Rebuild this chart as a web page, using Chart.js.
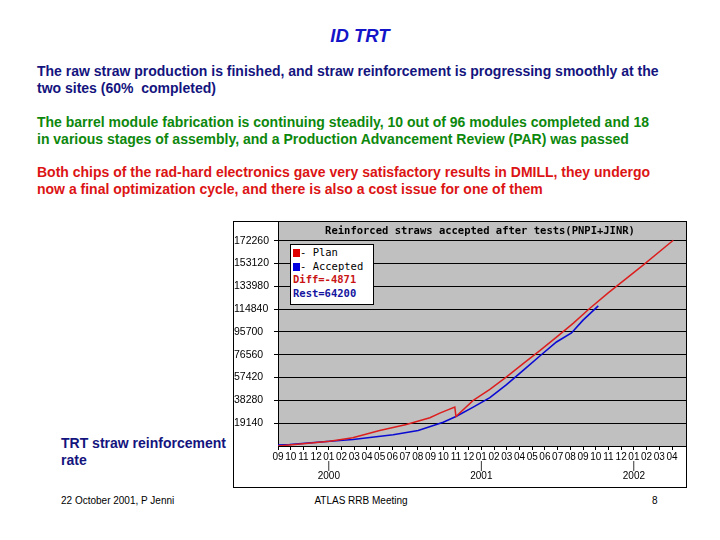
<!DOCTYPE html>
<html>
<head>
<meta charset="utf-8">
<script src="https://cdn.jsdelivr.net/npm/chart.js@4.4.1/dist/chart.umd.min.js"></script>
<style>
  body { margin: 0; width: 720px; height: 540px; background: #fff; position: relative; overflow: hidden;
         font-family: "Liberation Sans", Arial, sans-serif; }
  .t { position: absolute; white-space: nowrap; }
  #box { position: absolute; left: 233px; top: 221px; width: 452px; height: 265px; border: 1px solid #000; background: #fff; }
  #legend { position: absolute; left: 290px; top: 244px; width: 82px; height: 58px; border: 1px solid #000; background: #fff;
            font-family: "DejaVu Sans Mono", monospace; font-size: 10.5px; line-height: 13.7px; padding-top: 1px; }
  #legend span.sq { display: inline-block; width: 7px; height: 8px; margin-left: 2px; vertical-align: -1px; }
</style>
</head>
<body>
<div class="t" style="left:0;width:720px;text-align:center;top:25px;font:italic bold 18.5px 'Liberation Sans';color:#1414c8;">ID TRT</div>

<div class="t" style="left:37px;top:63px;font:bold 14px/17px 'Liberation Sans';color:#14147e;">The raw straw production is finished, and straw reinforcement is progressing smoothly at the<br>two sites (60% &nbsp;completed)</div>
<div class="t" style="left:37px;top:114px;font:bold 14px/16.5px 'Liberation Sans';color:#0d880d;">The barrel module fabrication is continuing steadily, 10 out of 96 modules completed and 18<br>in various stages of assembly, and a Production Advancement Review (PAR) was passed</div>
<div class="t" style="left:37px;top:164px;font:bold 14px/17px 'Liberation Sans';color:#dc1414;">Both chips of the rad-hard electronics gave very satisfactory results in DMILL, they undergo<br>now a final optimization cycle, and there is also a cost issue for one of them</div>

<div class="t" style="left:61px;top:435px;font:bold 14px/17px 'Liberation Sans';color:#14147e;">TRT straw reinforcement<br>rate</div>

<div class="t" style="left:61px;top:495px;font:10px 'Liberation Sans';color:#000;">22 October 2001, P Jenni</div>
<div class="t" style="left:0;width:722px;text-align:center;top:495px;font:10px 'Liberation Sans';color:#000;">ATLAS RRB Meeting</div>
<div class="t" style="left:652px;top:495px;font:10px 'Liberation Sans';color:#000;">8</div>

<div id="box"><canvas id="chart" width="452" height="265"></canvas></div>
<div id="legend">
  <div><span class="sq" style="background:#e00000"></span>- Plan</div>
  <div><span class="sq" style="background:#0000e0"></span>- Accepted</div>
  <div style="color:#c81414;font-weight:bold;padding-left:2px">Diff=-4871</div>
  <div style="color:#1414a0;font-weight:bold;padding-left:2px">Rest=64200</div>
</div>

<script>
// month axis: 0 = Sep 1999
const monthLabels = ['09','10','11','12','01','02','03','04','05','06','07','08','09','10','11','12',
                     '01','02','03','04','05','06','07','08','09','10','11','12','01','02','03','04'];
const yearTicks = [4, 16, 28];
const yearNames = ['2000', '2001', '2002'];
const yTicks = [19140, 38280, 57420, 76560, 95700, 114840, 133980, 153120, 172260];

const planMonths = [0, 1.97, 4.07, 5.88, 8.0, 10.1, 11.95, 12.73, 13.91, 14.0, 15.36, 16.67, 17.98, 19.29, 20.6, 21.91, 23.22, 24.54, 25.98, 28.75, 31.1];
const planValues = [0, 1850, 4040, 6900, 13040, 18090, 23720, 27600, 32640, 24820, 38300, 47500, 58000, 69200, 80000, 91400, 102900, 115600, 128500, 152000, 172700];

const acceptedMonths = [0, 0.92, 4.07, 5.9, 9.06, 11.03, 13.0, 14.0, 15.36, 16.67, 17.98, 19.29, 20.6, 21.91, 23.09, 24.0, 25.2];
const acceptedValues = [840, 1260, 4040, 5470, 9420, 13040, 20000, 24820, 32640, 40550, 51490, 63520, 75550, 87330, 94900, 105600, 117600];

const plotTitle = 'Reinforced straws accepted after tests(PNPI+JINR)';

const bgPlugin = {
    id: 'plot_bg',
    beforeDraw: (chart) => {
        const ctx = chart.ctx, a = chart.chartArea;
        ctx.save();
        ctx.fillStyle = '#c0c0c0';
        ctx.fillRect(a.left, a.top, a.right - a.left, a.bottom - a.top);
        ctx.restore();
    },
    afterDatasetsDraw: (chart) => {
        const ctx = chart.ctx, a = chart.chartArea;
        ctx.save();
        ctx.font = 'bold 10.5px "DejaVu Sans Mono"';
        ctx.fillStyle = '#000';
        ctx.textAlign = 'center';
        ctx.textBaseline = 'middle';
        ctx.fillText(plotTitle, (a.left + a.right) / 2 - 2, a.top + 9);
        ctx.restore();
    }
};

const ctx = document.getElementById('chart').getContext('2d');
new Chart(ctx, {
    type: 'line',
    data: {
        datasets: [{
            label: 'Plan',
            data: planMonths.map((m, i) => ({x: m, y: planValues[i]})),
            borderColor: '#dc1e1e',
            borderWidth: 1.5,
            pointRadius: 0,
            tension: 0
        }, {
            label: 'Accepted',
            data: acceptedMonths.map((m, i) => ({x: m, y: acceptedValues[i]})),
            borderColor: '#0a0ad2',
            borderWidth: 1.6,
            pointRadius: 0,
            tension: 0
        }]
    },
    options: {
        responsive: false,
        animation: false,
        layout: { padding: 0, autoPadding: false },
        plugins: { legend: { display: false }, tooltip: { enabled: false } },
        scales: {
            x: {
                type: 'linear',
                min: 0,
                max: 32.1,
                afterBuildTicks: (s) => { s.ticks = monthLabels.map((l, i) => ({value: i})); },
                afterFit: (s) => { s.height = 41; s.paddingLeft = 0; s.paddingRight = 0; },
                grid: { drawOnChartArea: false, drawTicks: true, tickLength: 4, color: '#000' },
                border: { display: true, color: '#000' },
                ticks: {
                    autoSkip: false,
                    maxRotation: 0,
                    padding: 2,
                    color: '#000',
                    font: { family: 'Liberation Sans', size: 10, lineHeight: 0.95 },
                    callback: (v) => {
                        const k = yearTicks.indexOf(v);
                        return k >= 0 ? [monthLabels[v], '|', yearNames[k]] : monthLabels[v];
                    }
                }
            },
            y: {
                min: 0,
                max: 188000,
                afterBuildTicks: (s) => { s.ticks = yTicks.map(v => ({value: v})); },
                afterFit: (s) => { s.width = 44; s.paddingTop = 0; s.paddingBottom = 0; },
                grid: { color: '#000', lineWidth: 1, drawTicks: true, tickLength: 4 },
                border: { display: true, color: '#000' },
                ticks: {
                    crossAlign: 'far',
                    padding: 2,
                    color: '#000',
                    font: { family: 'Liberation Sans', size: 10.5 },
                    callback: (v) => String(v)
                }
            }
        }
    },
    plugins: [bgPlugin]
});
</script>
</body>
</html>
